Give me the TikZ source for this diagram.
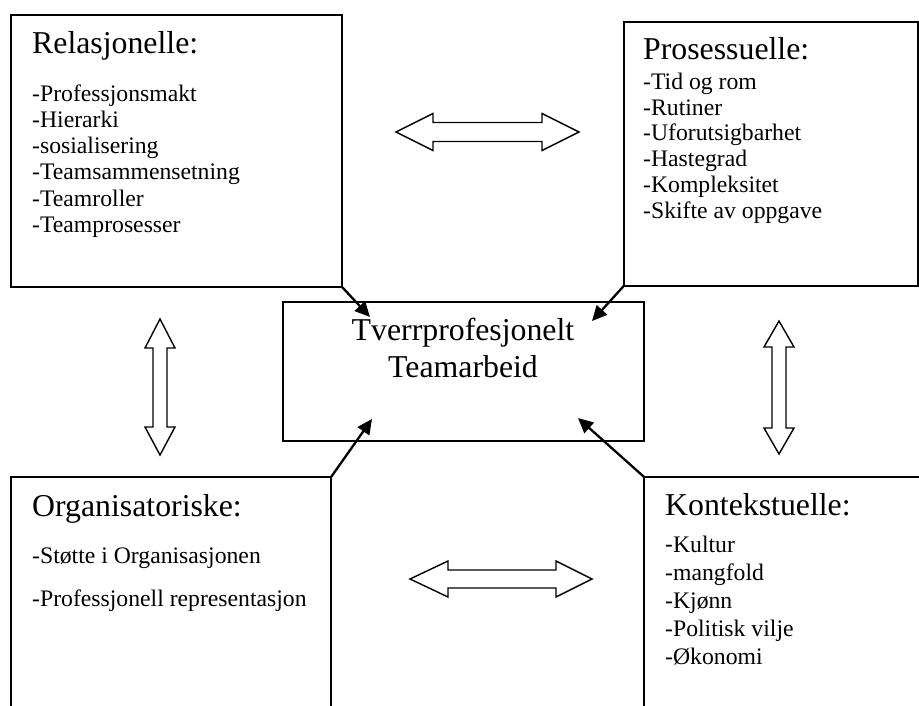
\documentclass[tikz,border=0pt]{standalone}
\usepackage{fontspec}
\setmainfont{Liberation Serif}
\newfontfamily\dashfont{Liberation Sans}
\usetikzlibrary{arrows.meta}
\tikzset{
  box/.style={draw=black, line width=1.8pt, fill=white, anchor=north west, inner sep=0pt},
  ttl/.style={anchor=base west, inner sep=0pt, font=\fontsize{31.8}{36}\selectfont},
  itm/.style={anchor=base west, inner sep=0pt, font=\fontsize{23.7}{26}\selectfont},
  ctr/.style={anchor=base, inner sep=0pt, font=\fontsize{31.8}{36}\selectfont},
  conn/.style={line width=2.3pt, -{Triangle[length=15pt,width=14pt]}, shorten <=-1pt},
  barrow/.style={draw=black, line width=1.4pt, fill=white, line join=miter}
}
\begin{document}
\begin{tikzpicture}[x=1pt,y=-1pt]
\useasboundingbox (0,0) rectangle (919,706);
\fill[white] (0,0) rectangle (919,706);
\clip (0,0) rectangle (919,706);

% boxes
\node[box, minimum width=331pt, minimum height=272pt] (rel) at (10,14) {};
\node[box, minimum width=294pt, minimum height=264pt] (pro) at (623,21) {};
\node[box, minimum width=361pt, minimum height=139pt] (ctrbox) at (282,301) {};
\node[box, minimum width=320pt, minimum height=300pt] (org) at (10,476) {};
\node[box, minimum width=320pt, minimum height=300pt] (kon) at (643,476) {};

% centre text
\node[ctr] (c1) at (463,340) {Tverrprofesjonelt};
\node[ctr] (c2) at (463,377) {Teamarbeid};

% Relasjonelle
\node[ttl] (relt) at (32,53.3) {Relasjonelle:};
\foreach \t [count=\i] in {-Professjonsmakt,-Hierarki,-sosialisering,-Teamsammensetning,-Teamroller,-Teamprosesser}
  \node[itm] (rel\i) at (32,101.7+26.1*\i-26.1) {\t};

% Prosessuelle
\node[ttl] (prot) at (643,60) {Prosessuelle:};
\foreach \t [count=\i] in {-Tid og rom,-Rutiner,-Uforutsigbarhet,-Hastegrad,-Kompleksitet,-Skifte av oppgave}
  \node[itm] (pro\i) at (643,89.3+25.75*\i-25.75) {\t};

% Organisatoriske
\node[ttl] (orgt) at (32,516) {Organisatoriske:};
\node[itm] (org1) at (32,563) {-Støtte i Organisasjonen};
\node[itm] (org2) at (32,606) {-Professjonell representasjon};

% Kontekstuelle
\node[ttl] (kont) at (665,515) {Kontekstuelle:};
\node[itm] (kon1) at (665,552) {{\dashfont -}Kultur};
\foreach \t [count=\i] in {-mangfold,-Kjønn,-Politisk vilje,-Økonomi}
  \node[itm] (kon\i x) at (665,552+28*\i) {\t};

% connectors
\coordinate (e1) at (370,317);
\coordinate (e2) at (592,321);
\coordinate (e3) at (372,419);
\coordinate (e4) at (578,418);
\draw[conn] (rel.south east) -- (e1);
\draw[conn] (pro.south west) -- (e2);
\draw[conn] (org.north east) -- (e3);
\draw[conn] (kon.north west) -- (e4);

% block double arrows
\draw[barrow] (396,132) -- (433,113.5) -- (433,122.5) -- (542,122.5) -- (542,113.5) -- (579,132)
  -- (542,150.5) -- (542,141.5) -- (433,141.5) -- (433,150.5) -- cycle;
\draw[barrow] (410,579) -- (448,561) -- (448,570) -- (556,570) -- (556,561) -- (592,579)
  -- (556,597) -- (556,588) -- (448,588) -- (448,597) -- cycle;
\draw[barrow] (160,319) -- (175,348) -- (167,348) -- (167,427) -- (175,427) -- (160,455)
  -- (145,427) -- (153,427) -- (153,348) -- (145,348) -- cycle;
\draw[barrow] (779,321) -- (794,347) -- (786,347) -- (786,428) -- (794,428) -- (779,454)
  -- (764,428) -- (772,428) -- (772,347) -- (764,347) -- cycle;
\end{tikzpicture}
\end{document}
